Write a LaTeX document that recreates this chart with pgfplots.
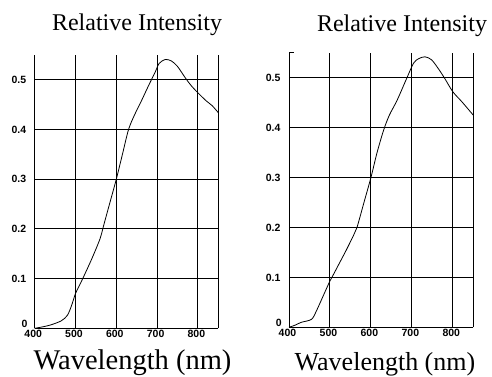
\documentclass[border=0pt]{standalone}
\usepackage{pgfplots}
\pgfplotsset{compat=1.18}
\usepackage{fontspec}
\setmainfont{Liberation Serif}
\newfontfamily\tickfont{Liberation Sans}
\pgfplotsset{
  myaxis/.style={
    scale only axis,
    xmin=400, xmax=850, ymin=0, ymax=0.55,
    axis x line*=bottom, axis y line*=left,
    axis line style={-, black, line width=1pt},
    xtick={400,500,600,700,800},
    xticklabels={400,500,600,700,800},
    ytick={0,0.1,0.2,0.3,0.4,0.5},
    yticklabels={,0.1,0.2,0.3,0.4,0.5},
    major tick length=0pt,
    grid=major,
    major grid style={black, line width=1pt},
    ticklabel style={font=\tickfont\bfseries\fontsize{10.5}{12}\selectfont},
    xticklabel style={yshift=1.5pt, xshift=-1.5pt},
    yticklabel style={xshift=-5pt},
    clip=false,
  }
}
\pgfplotstableread{
x y
400 0
420 0.003
440 0.007
465 0.015
480 0.026
490 0.045
500 0.070
510 0.087
520 0.104
540 0.14
560 0.18
570 0.21
585 0.255
600 0.3
615 0.35
630 0.40
645 0.43
660 0.455
680 0.49
695 0.515
705 0.533
720 0.541
735 0.538
750 0.527
770 0.503
785 0.487
800 0.474
820 0.458
835 0.448
850 0.434
}\leftdata
\pgfplotstableread{
x y
400 0
414 0.004
430 0.01
455 0.016
467 0.033
483 0.062
500 0.093
508 0.105
524 0.13
540 0.155
558 0.185
566 0.2
583 0.25
600 0.3
615 0.35
631 0.395
645 0.425
664 0.455
688 0.5
704 0.529
716 0.538
732 0.542
748 0.536
764 0.519
780 0.499
800 0.472
822 0.452
850 0.425
}\rightdata
\begin{document}
\begin{tikzpicture}[x=1pt,y=1pt]
\path[use as bounding box] (0,0) rectangle (492,376);
\begin{axis}[myaxis, at={(34.7pt,47.7pt)}, anchor=south west, width=183.6pt, height=273.3pt]
\addplot[black, line width=0.8pt, smooth, tension=0.5] table[x=x,y=y] {\leftdata};
\draw[black, line width=1pt] (axis cs:850,0) -- (axis cs:850,0.55);
\node[anchor=south east, inner sep=0pt, xshift=-7pt, yshift=1pt, font=\tickfont\bfseries\fontsize{10.5}{12}\selectfont] at (axis cs:400,0) {0};
\end{axis}
\begin{axis}[myaxis, at={(289pt,48.7pt)}, anchor=south west, width=184.3pt, height=274.5pt]
\addplot[black, line width=0.8pt, smooth, tension=0.5] table[x=x,y=y] {\rightdata};
\draw[black, line width=1pt] (axis cs:850,0) -- (axis cs:850,0.55);
\draw[black, line width=1pt] (axis cs:400,0.55) -- (axis cs:411,0.55);
\node[anchor=south east, inner sep=0pt, xshift=-7pt, yshift=1pt, font=\tickfont\bfseries\fontsize{10.5}{12}\selectfont] at (axis cs:400,0) {0};
\end{axis}
\node[anchor=base, font=\fontsize{24}{28}\selectfont] at (137,345) {Relative Intensity};
\node[anchor=base, font=\fontsize{24}{28}\selectfont] at (402,344.5) {Relative Intensity};
\node[anchor=base, font=\fontsize{28.5}{32}\selectfont] at (132.5,6.5) {Wavelength (nm)};
\node[anchor=base, font=\fontsize{26}{30}\selectfont] at (385,6) {Wavelength (nm)};
\end{tikzpicture}
\end{document}
